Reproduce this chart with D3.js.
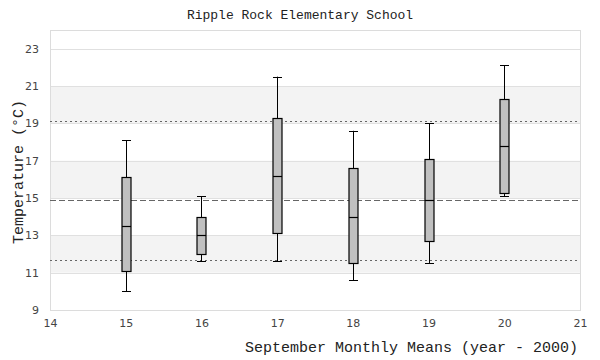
<!DOCTYPE html>
<html><head><meta charset="utf-8">
<script src="https://cdn.jsdelivr.net/npm/d3@7"></script>
<style>body{margin:0;background:#fff}</style>
</head><body>
<svg id="c" width="600" height="360"></svg>
<script>
const years = [15, 16, 17, 18, 19, 20];
const whiskerLow  = [10.0, 11.6, 11.6, 10.6, 11.5, 15.1];
const q1          = [11.1, 12.0, 13.1, 11.5, 12.7, 15.25];
const medians     = [13.5, 13.0, 16.2, 14.0, 14.9, 17.8];
const q3          = [16.1, 14.0, 19.3, 16.6, 17.1, 20.3];
const whiskerHigh = [18.1, 15.1, 21.5, 18.6, 19.0, 22.1];
const refLines = [{v: 19.1, type: "dot"}, {v: 14.9, type: "dash"}, {v: 11.7, type: "dot"}];
const xTicks = [14, 15, 16, 17, 18, 19, 20, 21];
const yTicks = [9, 11, 13, 15, 17, 19, 21, 23];
const bands = [[11, 13], [15, 17], [19, 21]];

const svg = d3.select("#c");
const m = {l: 50, r: 580, t: 30, b: 310};
const x = d3.scaleLinear().domain([14, 21]).range([m.l, m.r]);
const y = d3.scaleLinear().domain([9, 24]).range([m.b, m.t]);

// bands
svg.selectAll(".band").data(bands).enter().append("rect")
  .attr("x", m.l).attr("width", m.r - m.l)
  .attr("y", d => y(d[1])).attr("height", d => y(d[0]) - y(d[1]))
  .attr("fill", "#f3f3f3");

// grid
svg.selectAll(".grid").data(yTicks.slice(1)).enter().append("line")
  .attr("x1", m.l).attr("x2", m.r)
  .attr("y1", d => Math.round(y(d)) + 0.5).attr("y2", d => Math.round(y(d)) + 0.5)
  .attr("stroke", "#e0e0e0").attr("stroke-width", 1);

// border
svg.append("rect").attr("x", m.l + 0.5).attr("y", m.t + 0.5)
  .attr("width", m.r - m.l).attr("height", m.b - m.t)
  .attr("fill", "none").attr("stroke", "#dcdcdc");

// reference lines
svg.selectAll(".ref").data(refLines).enter().append("line")
  .attr("x1", m.l).attr("x2", m.r)
  .attr("y1", d => Math.round(y(d.v)) + 0.5).attr("y2", d => Math.round(y(d.v)) + 0.5)
  .attr("stroke", "#666").attr("stroke-width", 1)
  .attr("stroke-dasharray", d => d.type === "dot" ? "2,3" : "6,3");

// boxes
const bw = 9, cw = 9;
const g = svg.selectAll(".box").data(years).enter().append("g");
g.append("line")
  .attr("x1", d => Math.round(x(d)) + 0.5).attr("x2", d => Math.round(x(d)) + 0.5)
  .attr("y1", (d, i) => y(whiskerLow[i])).attr("y2", (d, i) => y(whiskerHigh[i]))
  .attr("stroke", "#000");
[whiskerLow, whiskerHigh].forEach(arr => {
  g.append("line")
    .attr("x1", d => Math.round(x(d)) - cw / 2 + 0.5).attr("x2", d => Math.round(x(d)) + cw / 2 + 0.5)
    .attr("y1", (d, i) => Math.round(y(arr[i])) + 0.5).attr("y2", (d, i) => Math.round(y(arr[i])) + 0.5)
    .attr("stroke", "#000");
});
g.append("rect")
  .attr("x", d => Math.round(x(d)) - bw / 2 + 0.5).attr("width", bw)
  .attr("y", (d, i) => Math.round(y(q3[i])) + 0.5)
  .attr("height", (d, i) => Math.round(y(q1[i])) - Math.round(y(q3[i])))
  .attr("fill", "#c0c0c0").attr("stroke", "#000").attr("stroke-width", 1.2);
g.append("line")
  .attr("x1", d => Math.round(x(d)) - bw / 2 + 0.5).attr("x2", d => Math.round(x(d)) + bw / 2 + 0.5)
  .attr("y1", (d, i) => Math.round(y(medians[i])) + 0.5).attr("y2", (d, i) => Math.round(y(medians[i])) + 0.5)
  .attr("stroke", "#000").attr("stroke-width", 1.2);

// axes
const xAxis = svg.append("g").attr("transform", `translate(0,${m.b})`)
  .call(d3.axisBottom(x).tickValues(xTicks).tickSize(0).tickPadding(9).tickFormat(d3.format("d")));
xAxis.select(".domain").remove();
const yAxis = svg.append("g").attr("transform", `translate(${m.l},0)`)
  .call(d3.axisLeft(y).tickValues(yTicks).tickSize(0).tickPadding(11).tickFormat(d3.format("d")));
yAxis.select(".domain").remove();
svg.selectAll(".tick text").attr("font-family", "DejaVu Sans, sans-serif")
  .attr("font-size", 11).attr("fill", "#444");

// titles
svg.append("text").attr("x", 300).attr("y", 19).attr("text-anchor", "middle")
  .attr("font-family", "Liberation Mono, DejaVu Sans Mono, monospace").attr("font-size", 13)
  .attr("fill", "#222").text("Ripple Rock Elementary School");
svg.append("text").attr("x", 578).attr("y", 352).attr("text-anchor", "end")
  .attr("font-family", "Liberation Mono, DejaVu Sans Mono, monospace").attr("font-size", 15)
  .attr("fill", "#222").text("September Monthly Means (year - 2000)");
svg.append("text").attr("transform", "translate(23,172) rotate(-90)").attr("text-anchor", "middle")
  .attr("font-family", "Liberation Mono, DejaVu Sans Mono, monospace").attr("font-size", 15)
  .attr("fill", "#222").text("Temperature (°C)");
</script>
</body></html>
